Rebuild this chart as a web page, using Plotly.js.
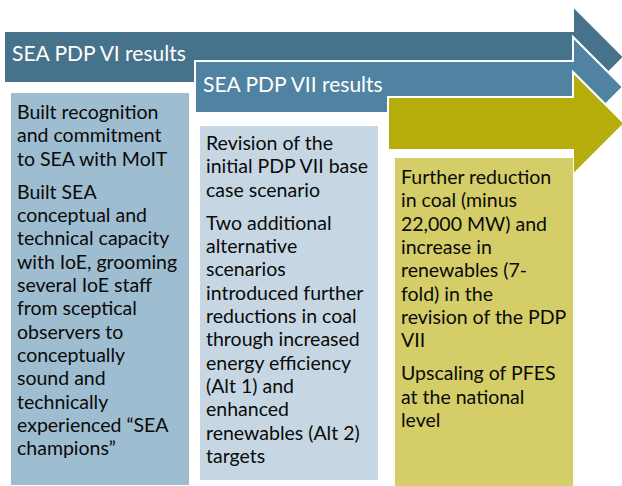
<!DOCTYPE html>
<html>
<head>
<meta charset="utf-8">
<script src="https://cdn.plot.ly/plotly-3.0.1.min.js"></script>
<style>html,body{margin:0;padding:0;background:#fff;}#chart{width:622px;height:486px;}</style>
</head>
<body>
<div id="chart"></div>
<script>
// ---- content ----
const stageTitles = ["SEA PDP VI results", "SEA PDP VII results", ""];
const stage1Paragraphs = [
  ["Built recognition", "and commitment", "to SEA with MoIT"],
  ["Built SEA", "conceptual and", "technical capacity", "with IoE, grooming", "several IoE staff", "from sceptical", "observers to", "conceptually", "sound and", "technically", "experienced \u201cSEA", "champions\u201d"]
];
const stage2Paragraphs = [
  ["Revision of the", "initial PDP VII base", "case scenario"],
  ["Two additional", "alternative", "scenarios", "introduced further", "reductions in coal", "through increased", "energy efficiency", "(Alt 1) and", "enhanced", "renewables (Alt 2)", "targets"]
];
const stage3Paragraphs = [
  ["Further reduction", "in coal (minus", "22,000 MW) and", "increase in", "renewables (7-", "fold) in the", "revision of the PDP", "VII"],
  ["Upscaling of PFES", "at the national", "level"]
];
const arrowColors = ["#46738b", "#4f83a1", "#b5ad0c"];
const boxColors = ["#9fbdd0", "#c6d7e3", "#d5cd68"];

// ---- layout geometry ----
const W = 622, H = 486;
const arrowGeom = [
  {x0: 4,   top: 31, bot: 83,  neck: 573, headTop: 6,  titleY: 52.5},
  {x0: 195, top: 61, bot: 113, neck: 573, headTop: 37, titleY: 83.5},
  {x0: 388, top: 97, bot: 150, neck: 573, headTop: 72, titleY: 118}
];
const boxGeom = [
  {x0: 11,  x1: 189, y0: 93,  y1: 485, textX: 15,  firstY: 111.5},
  {x0: 200, x1: 378, y0: 126, y1: 480, textX: 204, firstY: 142.5},
  {x0: 395, x1: 573, y0: 158, y1: 486, textX: 399, firstY: 176.5}
];
const LINE = 23.35, PARA_GAP = 9.5;
const FONT = "Lato, 'Open Sans', sans-serif";

function arrowPath(g) {
  const c = (g.top + g.bot) / 2, half = c - g.headTop, tip = g.neck + half;
  return `M${g.x0},${g.top} L${g.neck},${g.top} L${g.neck},${g.headTop} L${tip},${c} ` +
         `L${g.neck},${c + half} L${g.neck},${g.bot} L${g.x0},${g.bot} Z`;
}

const shapes = [];
const annotations = [];

arrowGeom.forEach((g, i) => {
  shapes.push({type: "path", xref: "x", yref: "y", path: arrowPath(g),
    fillcolor: arrowColors[i], line: {color: "#ffffff", width: 2}, layer: "above"});
  if (stageTitles[i]) {
    annotations.push({xref: "x", yref: "y", x: g.x0 + 6, y: g.titleY, text: stageTitles[i],
      showarrow: false, xanchor: "left", yanchor: "middle",
      font: {family: FONT, size: 21, color: "#ffffff"}});
  }
});

const allParas = [stage1Paragraphs, stage2Paragraphs, stage3Paragraphs];
boxGeom.forEach((b, i) => {
  shapes.push({type: "rect", xref: "x", yref: "y", x0: b.x0, x1: b.x1, y0: b.y0, y1: b.y1,
    fillcolor: boxColors[i], line: {width: 0}, layer: "above"});
  let y = b.firstY;
  allParas[i].forEach((para, p) => {
    if (p > 0) y += PARA_GAP;
    para.forEach(line => {
      annotations.push({xref: "x", yref: "y", x: b.textX, y: y, text: line,
        showarrow: false, xanchor: "left", yanchor: "middle",
        font: {family: FONT, size: 19.5, color: "#0a0a0a"}});
      y += LINE;
    });
  });
});

const layout = {
  width: W, height: H,
  margin: {l: 0, r: 0, t: 0, b: 0, pad: 0},
  paper_bgcolor: "#ffffff", plot_bgcolor: "#ffffff",
  xaxis: {range: [0, W], visible: false, fixedrange: true},
  yaxis: {range: [H, 0], visible: false, fixedrange: true},
  shapes: shapes,
  annotations: annotations,
  showlegend: false
};

Plotly.newPlot("chart", [], layout, {displayModeBar: false, staticPlot: true});
</script>
</body>
</html>
